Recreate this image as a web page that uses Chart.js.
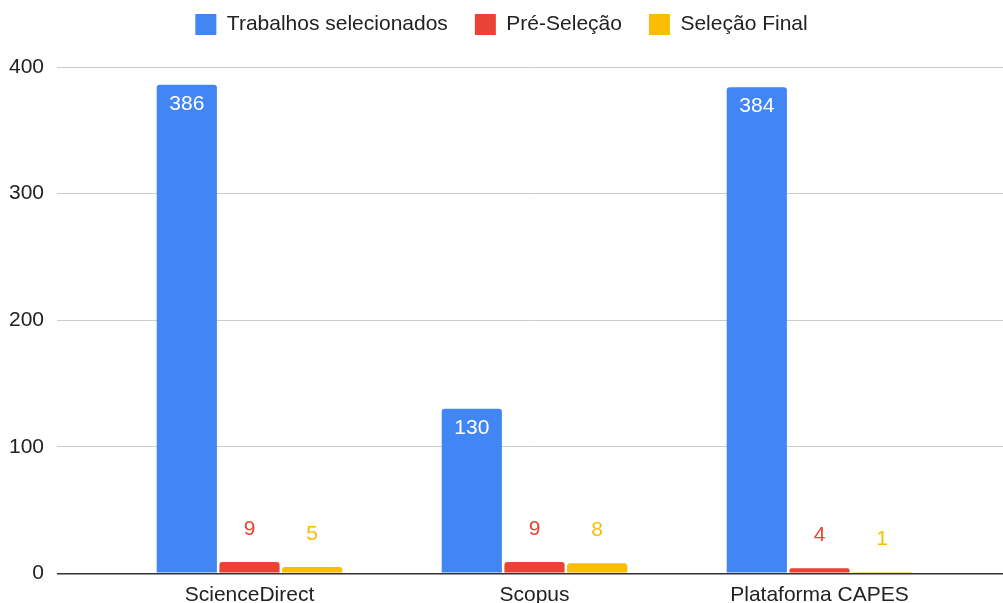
<!DOCTYPE html>
<html>
<head>
<meta charset="utf-8">
<script src="https://cdn.jsdelivr.net/npm/chart.js@4"></script>
<style>
  html, body { margin: 0; padding: 0; background: #fff; }
  #wrap { width: 1003px; height: 603px; }
</style>
</head>
<body>
<div id="wrap"><canvas id="myChart" width="1003" height="603"></canvas></div>
<script>
// Categories and series
const categories = ["ScienceDirect", "Scopus", "Plataforma CAPES"];
const trabalhos = [386, 130, 384];
const preSelecao = [9, 9, 4];
const selecaoFinal = [5, 8, 1];
const yTicks = [0, 100, 200, 300, 400];

const FONT = "'Liberation Sans', Arial, sans-serif";
const colors = ["#4285F4", "#EA4335", "#FBBC04"];

// value labels on top of the bars
const barLabels = {
  id: "barLabels",
  afterDatasetsDraw(chart) {
    const ctx = chart.ctx;
    ctx.save();
    ctx.font = "21px " + FONT;
    ctx.textAlign = "center";
    ctx.textBaseline = "middle";
    chart.data.datasets.forEach((ds, di) => {
      const meta = chart.getDatasetMeta(di);
      meta.data.forEach((bar, i) => {
        const v = ds.data[i];
        if (di === 0) {
          ctx.fillStyle = "#ffffff";
          ctx.fillText(v, bar.x, bar.y + 19);
        } else {
          ctx.fillStyle = colors[di];
          ctx.fillText(v, bar.x, bar.y - 33);
        }
      });
    });
    ctx.restore();
  },
};

// give the legend a fixed height so the plot starts lower
const legendHeight = {
  id: "legendHeight",
  beforeInit(chart) {
    const fit = chart.legend.fit;
    chart.legend.fit = function () {
      fit.call(this);
      this.height = 80;
    };
  },
};

const ctx = document.getElementById("myChart").getContext("2d");

new Chart(ctx, {
  type: "bar",
  data: {
    labels: categories,
    datasets: [
      { label: "Trabalhos selecionados", data: trabalhos, backgroundColor: colors[0] },
      { label: "Pré-Seleção", data: preSelecao, backgroundColor: colors[1] },
      { label: "Seleção Final", data: selecaoFinal, backgroundColor: colors[2] },
    ],
  },
  options: {
    responsive: false,
    animation: false,
    layout: { padding: { top: -13, right: 0, bottom: -6.5, left: 0 } },
    datasets: {
      bar: {
        categoryPercentage: 0.66,
        barPercentage: 0.96,
        borderRadius: 3,
      },
    },
    plugins: {
      legend: {
        position: "top",
        labels: {
          boxWidth: 21,
          boxHeight: 21,
          padding: 27,
          color: "#222",
          font: { family: FONT, size: 21 },
        },
      },
      tooltip: { enabled: false },
    },
    scales: {
      x: {
        grid: { display: false },
        border: { display: false },
        ticks: { color: "#222", font: { family: FONT, size: 21 }, padding: 1.5 },
      },
      y: {
        min: 0,
        max: 400,
        afterBuildTicks: (s) => { s.ticks = yTicks.map((v) => ({ value: v })); },
        afterFit: (s) => { s.width = 107; },
        border: { display: false },
        grid: {
          tickLength: 50,
          color: (c) => (c.tick && c.tick.value === 0 ? "#333" : "#cccccc"),
          lineWidth: (c) => (c.tick && c.tick.value === 0 ? 1.5 : 1),
        },
        ticks: { color: "#222", font: { family: FONT, size: 21 }, padding: 13 },
      },
      yRight: {
        position: "right",
        min: 0,
        max: 400,
        afterBuildTicks: (s) => { s.ticks = yTicks.map((v) => ({ value: v })); },
        border: { display: false },
        grid: {
          drawOnChartArea: false,
          tickLength: 41,
          color: (c) => (c.tick && c.tick.value === 0 ? "#333" : "#cccccc"),
          lineWidth: (c) => (c.tick && c.tick.value === 0 ? 1.5 : 1),
        },
        ticks: { display: false },
      },
    },
  },
  plugins: [barLabels, legendHeight],
});
</script>
</body>
</html>
